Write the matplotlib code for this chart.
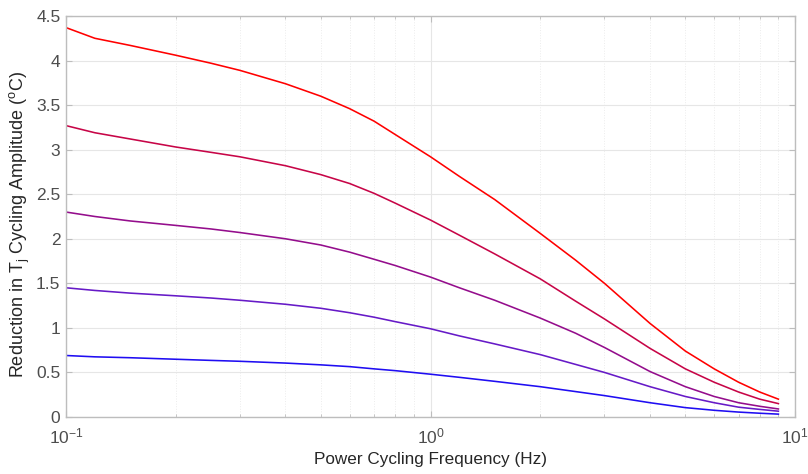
import numpy as np
import matplotlib
matplotlib.use("Agg")
import matplotlib.pyplot as plt
from matplotlib.ticker import FixedLocator, FormatStrFormatter, LogLocator, NullFormatter

plt.rcParams['font.family'] = ['Liberation Sans', 'DejaVu Sans']
plt.rcParams['mathtext.fontset'] = 'custom'
plt.rcParams['mathtext.rm'] = 'Liberation Sans'
plt.rcParams['mathtext.it'] = 'Liberation Sans'

freq = [0.1, 0.12, 0.15, 0.2, 0.25, 0.3, 0.4, 0.5, 0.6, 0.7, 0.8, 1.0, 1.2, 1.5,
        2.0, 2.5, 3.0, 4.0, 5.0, 6.0, 7.0, 8.0, 9.0]

curve1 = [4.37, 4.25, 4.17, 4.06, 3.97, 3.89, 3.74, 3.60, 3.46, 3.32, 3.17, 2.92, 2.70, 2.44,
          2.06, 1.76, 1.50, 1.05, 0.74, 0.54, 0.39, 0.28, 0.20]
curve2 = [3.27, 3.19, 3.12, 3.03, 2.97, 2.92, 2.82, 2.72, 2.62, 2.51, 2.40, 2.21, 2.04, 1.83,
          1.55, 1.30, 1.10, 0.77, 0.54, 0.39, 0.28, 0.20, 0.15]
curve3 = [2.30, 2.25, 2.20, 2.15, 2.11, 2.07, 2.00, 1.93, 1.85, 1.77, 1.70, 1.57, 1.45, 1.31,
          1.11, 0.94, 0.78, 0.51, 0.34, 0.23, 0.16, 0.12, 0.09]
curve4 = [1.45, 1.42, 1.39, 1.36, 1.335, 1.31, 1.265, 1.22, 1.17, 1.12, 1.07, 0.99, 0.91, 0.82,
          0.70, 0.59, 0.50, 0.34, 0.23, 0.16, 0.11, 0.085, 0.065]
curve5 = [0.69, 0.675, 0.665, 0.648, 0.635, 0.625, 0.605, 0.585, 0.565, 0.54, 0.52, 0.48, 0.445, 0.40,
          0.34, 0.285, 0.24, 0.16, 0.105, 0.075, 0.055, 0.042, 0.032]

series = [curve1, curve2, curve3, curve4, curve5]
colors = [(1.0, 0.0, 0.0), (0.78, 0.02, 0.28), (0.58, 0.05, 0.55), (0.40, 0.10, 0.78), (0.12, 0.05, 0.95)]

yticks = [0, 0.5, 1, 1.5, 2, 2.5, 3, 3.5, 4, 4.5]

fig = plt.figure(figsize=(8.08, 4.74), dpi=100)
ax = fig.add_axes([0.0817, 0.1203, 0.9023, 0.8459])

for ys, c in zip(series, colors):
    ax.plot(freq, ys, color=c, lw=1.15)

ax.set_xscale('log')
ax.set_xlim(0.1, 10)
ax.set_ylim(0, 4.5)
ax.yaxis.set_major_locator(FixedLocator(yticks))
ax.yaxis.set_major_formatter(FormatStrFormatter('%g'))
ax.xaxis.set_minor_locator(LogLocator(base=10, subs=np.arange(2, 10)))
ax.xaxis.set_minor_formatter(NullFormatter())

axcol = '#262626'
gray = '#4d4d4d'
for s in ax.spines.values():
    s.set_color('#bdbdbd')
    s.set_linewidth(1.0)
ax.tick_params(which='both', direction='in', top=True, right=True, colors='#bdbdbd',
               labelcolor=gray, labelsize=12.5)
ax.tick_params(which='major', length=4)
ax.tick_params(which='minor', length=2.5)
ax.tick_params(axis='x', pad=7)
ax.tick_params(axis='y', pad=4)

ax.grid(True, which='major', color='#e6e6e6', lw=0.8)
ax.grid(True, which='minor', axis='x', color='#ececec', lw=0.7, ls=':')
ax.set_axisbelow(True)

ax.set_xlabel('Power Cycling Frequency (Hz)', fontsize=12.3, color=axcol)
ax.xaxis.set_label_coords(0.5, -0.087)
ax.set_ylabel('Reduction in T$_\\mathregular{j}$ Cycling Amplitude ($^\\mathregular{o}$C)',
              fontsize=13, color=axcol)
ax.yaxis.set_label_coords(-0.046, 0.48)

fig.savefig('out.png', dpi=100)
